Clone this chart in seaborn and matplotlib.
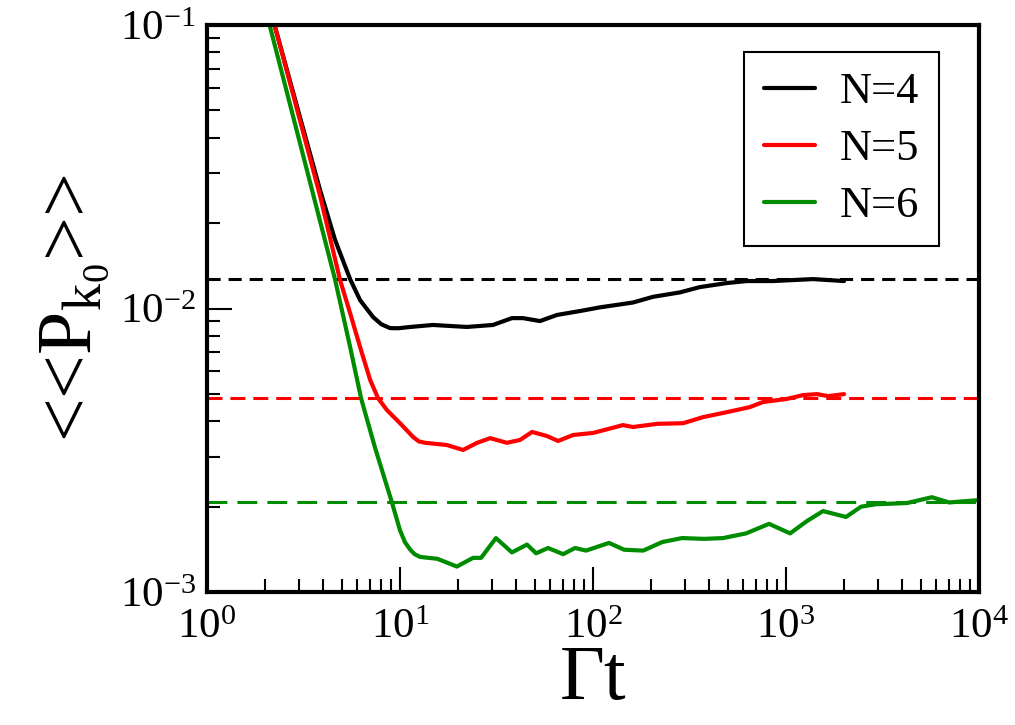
import numpy as np
import pandas as pd
import matplotlib
matplotlib.use('Agg')
import matplotlib.pyplot as plt
import seaborn as sns
from matplotlib.lines import Line2D
from matplotlib.ticker import LogLocator, NullFormatter

# data (log-log)
t_n4 = [2.0, 2.25, 3.85, 4.6, 5.51, 6.21, 7.25, 8.0, 8.87, 9.8, 11.3, 14.8, 22.2, 30.3, 38.0,
        43.4, 53.1, 65.0, 85.7, 109, 133, 161, 205, 282, 358, 494, 628, 857, 1087, 1380, 2000]
p_n4 = [0.132, 0.0986, 0.0262, 0.0175, 0.0127, 0.0107, 0.00933, 0.00880, 0.00853, 0.00852,
        0.00861, 0.00875, 0.00861, 0.00875, 0.00925, 0.00925, 0.00903, 0.00949, 0.00980,
        0.0101, 0.0103, 0.0105, 0.0110, 0.0114, 0.0119, 0.0123, 0.0125, 0.0125, 0.0126,
        0.0127, 0.0125]

t_n5 = [2.0, 2.25, 3.85, 4.89, 5.51, 6.21, 7.0, 7.69, 8.56, 10, 11.7, 12.5, 13.5, 17.5, 21.2,
        25.1, 29.3, 35.8, 41.9, 48.3, 57.8, 65.9, 78.8, 100, 143, 161, 215, 293, 372, 494,
        650, 760, 1012, 1225, 1449, 1652, 2000]
p_n5 = [0.131, 0.0986, 0.0250, 0.0126, 0.00964, 0.00731, 0.00560, 0.00483, 0.00438, 0.00394,
        0.00352, 0.00340, 0.00336, 0.00330, 0.00317, 0.00336, 0.00349, 0.00336, 0.00344,
        0.00367, 0.00355, 0.00341, 0.00358, 0.00364, 0.00388, 0.00382, 0.00392, 0.00394,
        0.00414, 0.00431, 0.00449, 0.00468, 0.00480, 0.00495, 0.00499, 0.00491, 0.00499]

t_n6 = [2.0, 2.12, 4.6, 5.51, 6.28, 7.39, 9.06, 10, 10.6, 11.3, 11.9, 12.7, 15.6, 19.7, 23.9,
        26.3, 31.4, 38.0, 45.5, 50.7, 58.5, 70.0, 80.7, 92.0, 121, 145, 182, 228, 289, 376,
        472, 621, 817, 1050, 1285, 1556, 2046, 2449, 2924, 4236, 5702, 7000, 10000]
p_n6 = [0.115, 0.0986, 0.0127, 0.00733, 0.00483, 0.00326, 0.00208, 0.00165, 0.00150, 0.00141,
        0.00136, 0.00133, 0.00131, 0.00123, 0.00132, 0.00132, 0.00155, 0.00138, 0.00147,
        0.00137, 0.00143, 0.00136, 0.00143, 0.00140, 0.00149, 0.00141, 0.00140, 0.00150,
        0.00155, 0.00154, 0.00155, 0.00161, 0.00174, 0.00161, 0.00178, 0.00193, 0.00184,
        0.00200, 0.00204, 0.00206, 0.00216, 0.00207, 0.00211]

labels = ['N=4', 'N=5', 'N=6']
plateaus = [0.0127, 0.00482, 0.00208]
colors = ['#000000', '#ff0000', '#008c00']
dash_styles = [(0, (4.3, 2.6)), (0, (4.9, 2.6)), (0, (6.5, 3.3))]

df = pd.concat([
    pd.DataFrame({'t': t_n4, 'P': p_n4, 'N': labels[0]}),
    pd.DataFrame({'t': t_n5, 'P': p_n5, 'N': labels[1]}),
    pd.DataFrame({'t': t_n6, 'P': p_n6, 'N': labels[2]}),
])

sns.set_style('ticks')
plt.rcParams['font.family'] = ['Liberation Serif', 'DejaVu Serif']
plt.rcParams['mathtext.fontset'] = 'custom'
plt.rcParams['mathtext.rm'] = 'Liberation Serif'
plt.rcParams['mathtext.it'] = 'Liberation Serif:italic'
plt.rcParams['mathtext.default'] = 'regular'
plt.rcParams['axes.unicode_minus'] = False
for key in ['text.color', 'axes.labelcolor', 'xtick.color', 'ytick.color', 'axes.edgecolor']:
    plt.rcParams[key] = 'black'

fig, ax = plt.subplots(figsize=(10.15, 7.25), dpi=100)
fig.subplots_adjust(left=0.204, right=0.9645, bottom=0.1834, top=0.9655)

for val, c, ls in zip(plateaus, colors, dash_styles):
    ax.axhline(val, color=c, lw=2.2, linestyle=ls, zorder=1)

sns.lineplot(data=df, x='t', y='P', hue='N', palette=colors, hue_order=labels,
             estimator=None, sort=False, lw=3, legend=False, ax=ax, zorder=2)

ax.set(xscale='log', yscale='log')
ax.set_xlim(1, 1e4)
ax.set_ylim(1e-3, 1e-1)

ax.xaxis.set_major_locator(LogLocator(base=10, numticks=10))
ax.xaxis.set_minor_locator(LogLocator(base=10, subs=np.arange(2, 10), numticks=20))
ax.yaxis.set_minor_locator(LogLocator(base=10, subs=np.arange(2, 10), numticks=20))
ax.xaxis.set_minor_formatter(NullFormatter())
ax.yaxis.set_minor_formatter(NullFormatter())

for s in ax.spines.values():
    s.set_linewidth(3)
    s.set_color('black')
ax.tick_params(which='both', direction='in', top=False, right=False, labelsize=31,
               color='black', labelcolor='black')
ax.tick_params(which='major', length=18, width=1.5)
ax.tick_params(which='minor', length=9.5, width=1.5)
ax.tick_params(axis='x', which='major', pad=12)
ax.tick_params(axis='y', which='major', pad=8)

ax.set_xlabel('Γt', fontsize=56, labelpad=-2)
ax.set_ylabel(r'<<P$_{k_0}$>>', fontsize=56, labelpad=6)

handles = [Line2D([], [], color=c, lw=3) for c in colors]
leg = ax.legend(handles, labels, loc='upper right', bbox_to_anchor=(0.948, 0.952),
                borderaxespad=0, fontsize=32, frameon=True, fancybox=False,
                edgecolor='black', framealpha=1, handlelength=1.15, handletextpad=0.55,
                labelspacing=0.38, borderpad=0.45)
leg.get_frame().set_linewidth(1.5)

plt.savefig('out.png', dpi=100)
